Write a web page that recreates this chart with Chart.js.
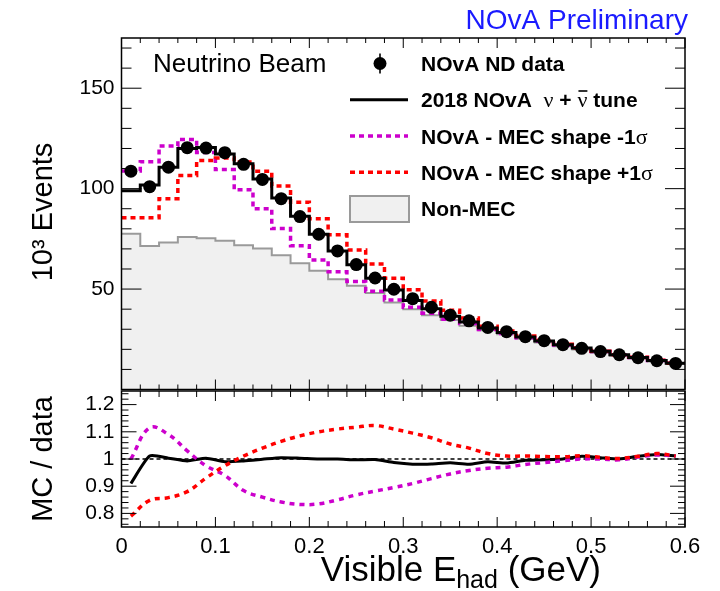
<!DOCTYPE html>
<html lang="en">
<head>
<meta charset="UTF-8">
<title>NOvA ND visible hadronic energy</title>
<script src="https://cdn.jsdelivr.net/npm/chart.js"></script>
<style>
  body { margin: 0; background: #fff; }
  #wrap { position: relative; width: 720px; height: 591px; overflow: hidden; }
  #wrap canvas { position: absolute; left: 0; }
  #ratio { top: 390px; }
  #top { top: 0; }
</style>
</head>
<body>
<div id="wrap">
  <canvas id="ratio" width="720" height="201"></canvas>
  <canvas id="top" width="720" height="396"></canvas>
</div>
<script>
// bins of visible hadronic energy (GeV)
const binEdges = [0, 0.02, 0.04, 0.06, 0.08, 0.10, 0.12, 0.14, 0.16, 0.18, 0.20,
  0.22, 0.24, 0.26, 0.28, 0.30, 0.32, 0.34, 0.36, 0.38, 0.40,
  0.42, 0.44, 0.46, 0.48, 0.50, 0.52, 0.54, 0.56, 0.58, 0.60];

// events per bin, in thousands
const ndData   = [108.7, 101.0, 110.7, 120.4, 120.2, 117.9, 112.1, 104.6, 95.0, 86.1,
  77.3, 69.0, 62.2, 55.5, 49.9, 45.2, 40.9, 37.0, 34.2, 30.9,
  28.8, 26.3, 24.3, 22.3, 20.5, 18.9, 17.3, 15.8, 14.3, 13.0];
const tune2018 = [99.0, 101.8, 110.7, 120.0, 120.5, 117.2, 112.4, 104.8, 95.4, 86.3,
  77.3, 69.0, 62.1, 55.4, 49.5, 44.3, 40.2, 36.5, 33.6, 30.6,
  28.4, 26.2, 24.2, 22.3, 20.7, 19.0, 17.3, 15.9, 14.5, 13.1];
const mecMinus = [108.8, 113.4, 121.2, 124.5, 118.0, 109.5, 99.4, 90.0, 80.1, 71.6,
  64.5, 58.6, 53.8, 48.9, 44.6, 40.9, 38.0, 35.0, 32.8, 29.9,
  27.9, 25.8, 24.0, 22.2, 20.5, 18.9, 17.3, 15.9, 14.5, 13.1];
const mecPlus  = [85.5, 85.5, 95.0, 106.5, 114.0, 115.3, 113.3, 108.6, 101.3, 93.2,
  85.0, 77.0, 69.5, 62.5, 55.4, 49.6, 44.1, 39.4, 35.6, 31.5,
  29.1, 26.6, 24.5, 22.5, 20.6, 19.0, 17.3, 16.0, 14.6, 13.1];
const nonMec   = [77.5, 71.5, 73.2, 75.9, 75.3, 74.1, 71.8, 70.2, 66.8, 62.9,
  59.1, 54.9, 51.7, 48.0, 43.3, 40.0, 37.0, 34.6, 31.7, 29.5,
  27.5, 25.3, 23.4, 21.5, 19.9, 18.3, 16.8, 15.4, 14.0, 12.7];

// MC / data at bin centres
const ratioTune  = [0.91, 1.011, 1.003, 0.993, 1.003, 0.99, 0.993, 0.999, 1.005, 1.003,
  1.0, 1.0, 0.997, 0.998, 0.987, 0.981, 0.982, 0.986, 0.981, 0.99,
  0.985, 0.995, 0.997, 1.0, 1.01, 1.005, 1.0, 1.01, 1.017, 1.011];
const ratioMinus = [1.0, 1.115, 1.09, 1.03, 0.975, 0.94, 0.884, 0.86, 0.842, 0.833,
  0.835, 0.85, 0.868, 0.882, 0.895, 0.91, 0.928, 0.945, 0.958, 0.966,
  0.97, 0.98, 0.987, 0.994, 1.0, 1.0, 0.997, 1.007, 1.015, 1.011];
const ratioPlus  = [0.79, 0.848, 0.858, 0.88, 0.93, 0.975, 1.011, 1.04, 1.065, 1.085,
  1.10, 1.11, 1.117, 1.123, 1.11, 1.095, 1.078, 1.055, 1.04, 1.02,
  1.011, 1.011, 1.009, 1.008, 1.012, 1.006, 1.002, 1.01, 1.02, 1.011];
const ratioUnity = [1, 1];

// axis labels
const energyTicks = [0, 0.1, 0.2, 0.3, 0.4, 0.5, 0.6];
const eventTicks  = [50, 100, 150];
const ratioTicks  = [0.8, 0.9, 1, 1.1, 1.2];

const SANS = "'Liberation Sans', Arial, Helvetica, sans-serif";
const SERIF = "'Liberation Serif', 'Times New Roman', serif";
const MAGENTA = '#cc00cc';
const RED = '#ff0000';
const GREY_LINE = '#9a9a9a';
const GREY_FILL = '#f0f0f0';

Chart.defaults.font.family = SANS;
Chart.defaults.color = '#000';

// left edge of every bin plus the closing edge, for stepped drawing
function histPoints(values) {
  const pts = values.map((v, i) => ({ x: binEdges[i], y: v }));
  pts.push({ x: binEdges[binEdges.length - 1], y: values[values.length - 1] });
  return pts;
}
function centerPoints(values) {
  return values.map((v, i) => ({ x: (binEdges[i] + binEdges[i + 1]) / 2, y: v }));
}
function setTicks(list) {
  return s => { s.ticks = list.map(v => ({ value: v })); };
}
// fixed axis size, and no extra room reserved for end labels
function fixWidth(w) {
  return s => { s.width = w; s.paddingTop = 0; s.paddingBottom = 0; };
}
function fixHeight(h) {
  return s => { s.height = h; s.paddingLeft = 0; s.paddingRight = 0; };
}

// ROOT-style frame with inward ticks on all four sides
function frameTicks(cfg) {
  return {
    id: 'frameTicks',
    afterDatasetsDraw(chart) {
      const { ctx, chartArea: a, scales } = chart;
      ctx.save();
      ctx.strokeStyle = '#000';
      ctx.lineWidth = 1;
      ctx.beginPath();
      cfg.xTicks.forEach(t => {
        const px = scales.x.getPixelForValue(t.v);
        const len = t.major ? cfg.xMajor : cfg.xMinor;
        ctx.moveTo(px, a.bottom); ctx.lineTo(px, a.bottom - len);
        ctx.moveTo(px, a.top); ctx.lineTo(px, a.top + len);
      });
      cfg.yTicks.forEach(t => {
        const py = scales.y.getPixelForValue(t.v);
        const len = t.major ? cfg.yMajor : cfg.yMinor;
        ctx.moveTo(a.left, py); ctx.lineTo(a.left + len, py);
        ctx.moveTo(a.right, py); ctx.lineTo(a.right - len, py);
      });
      ctx.stroke();
      ctx.lineWidth = 1.5;
      ctx.strokeRect(a.left, a.top, a.right - a.left, a.bottom - a.top);
      ctx.restore();
    }
  };
}

const xTickList = [];
for (let i = 0; i <= 30; i++) xTickList.push({ v: i * 0.02, major: i % 5 === 0 });
const countTickList = [];
for (let i = 0; i <= 17; i++) countTickList.push({ v: i * 10, major: i % 5 === 0 });
const ratioTickList = [];
for (let i = 0; i <= 24; i++) ratioTickList.push({ v: 0.76 + i * 0.02, major: (i - 2) % 5 === 0 });

// draw text pieces one after another; bar:true puts an overline on that piece
function drawRun(ctx, x, y, parts) {
  parts.forEach(p => {
    ctx.font = p.font;
    const w = ctx.measureText(p.text).width;
    ctx.fillText(p.text, x, y + (p.dy || 0));
    if (p.bar) ctx.fillRect(x + 1, y - 17, w - 1, 1.6);
    x += w;
  });
  return x;
}
function runWidth(ctx, parts) {
  return parts.reduce((s, p) => { ctx.font = p.font; return s + ctx.measureText(p.text).width; }, 0);
}

const topDecor = {
  id: 'topDecor',
  afterDraw(chart) {
    const ctx = chart.ctx;
    const ds = chart.data.datasets;
    ctx.save();
    ctx.textBaseline = 'alphabetic';

    // header
    ctx.font = '28px ' + SANS;
    ctx.fillStyle = '#1a1aff';
    ctx.textAlign = 'right';
    ctx.fillText('NOvA Preliminary', 688, 29);

    ctx.textAlign = 'left';
    ctx.fillStyle = '#000';
    ctx.font = '26px ' + SANS;
    ctx.fillText('Neutrino Beam', 153, 72);

    // y title
    ctx.save();
    ctx.translate(52, 212);
    ctx.rotate(-Math.PI / 2);
    ctx.textAlign = 'center';
    ctx.font = '29px ' + SANS;
    ctx.fillText('10\u00b3 Events', 0, 0);
    ctx.restore();

    // legend
    const bold = 'bold 21px ' + SANS;
    const greek = '22px ' + SERIF;
    const rowY = [71, 107.2, 143.5, 179.7, 216];
    const mid = y => y - 7.5;
    const tx = 421;

    // data marker with error bar
    ctx.fillRect(379.2, mid(rowY[0]) - 10, 1.6, 20);
    ctx.beginPath();
    ctx.arc(380, mid(rowY[0]), ds[0].pointRadius, 0, Math.PI * 2);
    ctx.fill();
    ctx.font = bold;
    ctx.fillText('NOvA ND data', tx, rowY[0]);

    const sample = (d, y) => {
      ctx.save();
      ctx.strokeStyle = d.borderColor;
      ctx.lineWidth = d.borderWidth;
      ctx.setLineDash(d.borderDash || []);
      ctx.beginPath();
      ctx.moveTo(350, mid(y));
      ctx.lineTo(408, mid(y));
      ctx.stroke();
      ctx.restore();
    };
    sample(ds[1], rowY[1]);
    drawRun(ctx, tx, rowY[1], [
      { text: '2018 NOvA  ', font: bold },
      { text: '\u03bd', font: greek },
      { text: ' + ', font: bold },
      { text: '\u03bd', font: greek, bar: true },
      { text: ' tune', font: bold }
    ]);
    sample(ds[2], rowY[2]);
    drawRun(ctx, tx, rowY[2], [
      { text: 'NOvA - MEC shape -1', font: bold },
      { text: '\u03c3', font: greek }
    ]);
    sample(ds[3], rowY[3]);
    drawRun(ctx, tx, rowY[3], [
      { text: 'NOvA - MEC shape +1', font: bold },
      { text: '\u03c3', font: greek }
    ]);
    ctx.fillStyle = ds[4].backgroundColor;
    ctx.fillRect(350, 196, 59, 26);
    ctx.strokeStyle = ds[4].borderColor;
    ctx.lineWidth = ds[4].borderWidth;
    ctx.strokeRect(350, 196, 59, 26);
    ctx.fillStyle = '#000';
    ctx.font = bold;
    ctx.fillText('Non-MEC', tx, rowY[4]);
    ctx.restore();
  }
};

const ratioDecor = {
  id: 'ratioDecor',
  afterDraw(chart) {
    const ctx = chart.ctx;
    ctx.save();
    ctx.fillStyle = '#000';
    ctx.save();
    ctx.translate(52, 69);
    ctx.rotate(-Math.PI / 2);
    ctx.textAlign = 'center';
    ctx.font = '29px ' + SANS;
    ctx.fillText('MC / data', 0, 0);
    ctx.restore();

    const big = '35px ' + SANS;
    const parts = [
      { text: 'Visible E', font: big },
      { text: 'had', font: '25px ' + SANS, dy: 7 },
      { text: ' (GeV)', font: big }
    ];
    ctx.textAlign = 'left';
    drawRun(ctx, 601 - runWidth(ctx, parts), 191, parts);
    ctx.restore();
  }
};

new Chart(document.getElementById('top'), {
  type: 'line',
  data: {
    datasets: [
      { label: 'NOvA ND data', data: centerPoints(ndData), showLine: false,
        pointRadius: 6.5, pointHoverRadius: 6.5, pointBackgroundColor: '#000',
        pointBorderColor: '#000', pointBorderWidth: 0, order: 0 },
      { label: '2018 NOvA tune', data: histPoints(tune2018), stepped: true,
        borderColor: '#000', borderWidth: 3, pointRadius: 0, order: 1 },
      { label: 'MEC shape -1 sigma', data: histPoints(mecMinus), stepped: true,
        borderColor: MAGENTA, borderWidth: 3.5, borderDash: [5, 4], pointRadius: 0, order: 3 },
      { label: 'MEC shape +1 sigma', data: histPoints(mecPlus), stepped: true,
        borderColor: RED, borderWidth: 3.5, borderDash: [5, 4], pointRadius: 0, order: 2 },
      { label: 'Non-MEC', data: histPoints(nonMec), stepped: true,
        borderColor: GREY_LINE, borderWidth: 2, backgroundColor: GREY_FILL,
        fill: 'origin', pointRadius: 0, order: 4 }
    ]
  },
  options: {
    responsive: false,
    animation: false,
    devicePixelRatio: 1,
    layout: { padding: { top: 38, right: 35, bottom: 0, left: 0 } },
    plugins: { legend: { display: false }, tooltip: { enabled: false } },
    scales: {
      x: {
        type: 'linear', min: 0, max: 0.6,
        grid: { display: false, drawTicks: false },
        border: { display: false },
        ticks: { display: false },
        afterFit: fixHeight(2)
      },
      y: {
        min: 0, max: 175,
        grid: { display: false, drawTicks: false },
        border: { display: false },
        afterBuildTicks: setTicks(eventTicks),
        afterFit: fixWidth(121.5),
        ticks: { font: { size: 21 }, padding: 7, color: '#000' }
      }
    }
  },
  plugins: [frameTicks({ xTicks: xTickList, yTicks: countTickList,
    xMajor: 10, xMinor: 5, yMajor: 20, yMinor: 10 }), topDecor]
});

new Chart(document.getElementById('ratio'), {
  type: 'line',
  data: {
    datasets: [
      { data: ratioUnity.map((v, i) => ({ x: binEdges[i * (binEdges.length - 1)], y: v })),
        borderColor: '#000', borderWidth: 1.5, borderDash: [4, 3], pointRadius: 0, order: 3 },
      { data: centerPoints(ratioTune), borderColor: '#000', borderWidth: 3,
        tension: 0.2, pointRadius: 0, order: 2 },
      { data: centerPoints(ratioMinus), borderColor: MAGENTA, borderWidth: 3.5,
        borderDash: [5, 5], tension: 0.4, pointRadius: 0, order: 1 },
      { data: centerPoints(ratioPlus), borderColor: RED, borderWidth: 3.5,
        borderDash: [5, 5], tension: 0.4, pointRadius: 0, order: 0 }
    ]
  },
  options: {
    responsive: false,
    animation: false,
    devicePixelRatio: 1,
    layout: { padding: { top: 1, right: 35, bottom: 0, left: 0 } },
    plugins: { legend: { display: false }, tooltip: { enabled: false } },
    scales: {
      x: {
        type: 'linear', min: 0, max: 0.6,
        grid: { display: false, drawTicks: false },
        border: { display: false },
        afterBuildTicks: setTicks(energyTicks),
        afterFit: fixHeight(64),
        ticks: { font: { size: 22 }, padding: 7, color: '#000', maxRotation: 0,
          callback: v => String(Math.round(v * 10) / 10) }
      },
      y: {
        min: 0.75, max: 1.25,
        grid: { display: false, drawTicks: false },
        border: { display: false },
        afterBuildTicks: setTicks(ratioTicks),
        afterFit: fixWidth(121.5),
        ticks: { font: { size: 21 }, padding: 7, color: '#000',
          callback: v => String(Math.round(v * 10) / 10) }
      }
    }
  },
  plugins: [frameTicks({ xTicks: xTickList, yTicks: ratioTickList,
    xMajor: 10, xMinor: 6, yMajor: 15, yMinor: 7 }), ratioDecor]
});
</script>
</body>
</html>
